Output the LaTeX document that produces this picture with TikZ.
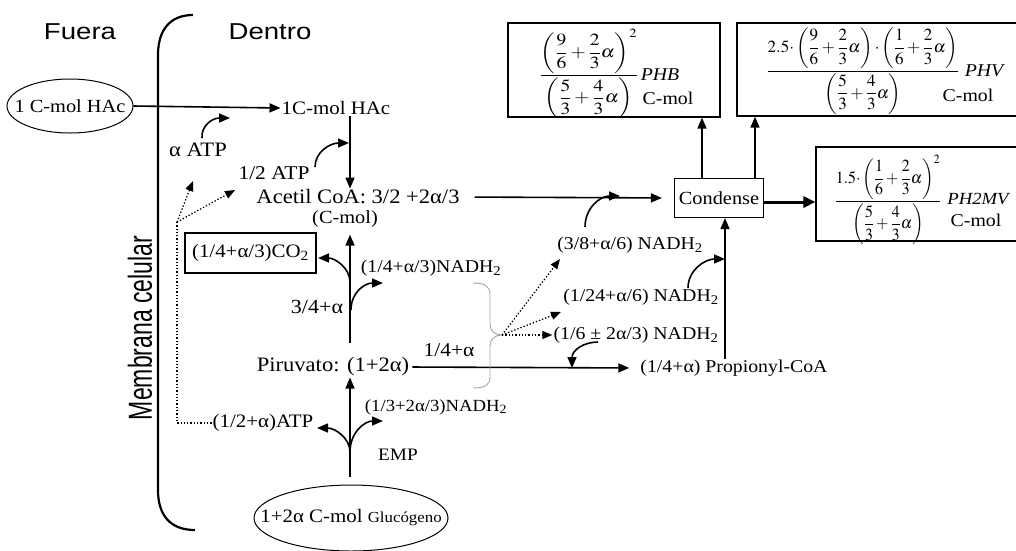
\documentclass[tikz,border=0pt]{standalone}
\usepackage{amsmath}
\usepackage{mathptmx}
\usepackage[no-math]{fontspec}
\setmainfont{Liberation Serif}[FakeStretch=1.1]
\newfontfamily\hfont{Liberation Sans}[FakeStretch=1.2]
\newfontfamily\vfont{Liberation Sans}
\usetikzlibrary{arrows.meta,shapes.geometric,calc}
\newcommand{\fs}[1]{\fontsize{#1}{#1}\selectfont}
\begin{document}
\begin{tikzpicture}[x=1pt,y=-1pt,
  txt/.style={font=\fs{18}, inner sep=1pt},
  hdr/.style={font=\hfont\fs{23}, inner sep=0pt},
  arr/.style={-{Triangle[length=11pt,width=9pt]}, line width=1.6pt},
  thk/.style={-{Triangle[length=12pt,width=11pt]}, line width=3pt},
  dotarr/.style={-{Triangle[length=10pt,width=8pt]}, line width=1.3pt, dotted},
  dotln/.style={line width=1.3pt, dotted},
  bx/.style={draw, line width=1.2pt, inner sep=0pt},
  ell/.style={ellipse, draw, line width=1pt, inner sep=0pt},
  mth/.style={font=\fs{17}, inner sep=0pt},
  lbl/.style={txt, font=\itshape\fs{18}},
]
\useasboundingbox (0,0) rectangle (1016,550);
\clip (0,0) rectangle (1016,550);

% headers and membrane
\node[hdr] (fuera) at (80,32) {Fuera};
\node[hdr] (dentro) at (270,32) {Dentro};
\node[inner sep=0pt, rotate=90, font=\vfont\fs{23}] (memb) at (140,328) {\scalebox{1}[1.45]{Membrana celular}};
\draw[line width=2.2pt] (193,15) .. controls (170,15) and (158,30) .. (158,55) -- (158,490) .. controls (158,515) and (170,530) .. (195,530);

% axis coordinates
\coordinate (ax) at (350,0);
\coordinate (px1) at (702,0);
\coordinate (px2) at (755,0);
\coordinate (px3) at (725,0);

% nodes
\node[ell, minimum width=126pt, minimum height=54pt, font=\fs{18.5}] (hacout) at (70,106) {\makebox[0pt]{1 C-mol HAc}};
\node[txt, font=\fs{19}] (hacin) at (336,108) {1C-mol HAc};
\node[txt, font=\fs{20.5}] (aatp) at (198,150) {α ATP};
\node[txt, font=\fs{19.5}] (hatp) at (274,173) {1/2 ATP};
\node[txt, font=\fs{20.5}] (acetil) at (358,197) {Acetil CoA: 3/2 +2α/3};
\node[txt, font=\fs{18.5}] (cmol) at (345,219) {(C-mol)};
\node[bx, txt, font=\fs{19}, minimum width=131pt, minimum height=40pt] (co2) at (250.5,253) {(1/4+α/3)CO\textsubscript{2}};
\node[txt] (nadh1) at (431,268) {(1/4+α/3)NADH\textsubscript{2}};
\node[txt, font=\fs{20}] (r34) at (317,307) {3/4+α};
\node[txt, font=\fs{20.5}] (piru) at (333,367) {Piruvato: (1+2α)};
\node[txt, font=\fs{19.5}] (r14) at (449,350) {1/4+α};
\node[txt, font=\fs{19}] (atp2) at (263,423) {(1/2+α)ATP};
\node[txt, font=\fs{17}] (nadh0) at (436,407) {(1/3+2α/3)NADH\textsubscript{2}};
\node[txt, font=\fs{17.5}] (emp) at (398,455) {EMP};
\node[ell, minimum width=194pt, minimum height=66pt] (gluc) at (351,518) {\makebox[0pt]{\fs{19}1+2α C-mol \fs{15.3}Glucógeno}};

\node[bx, txt, font=\fs{18.5}, minimum width=89pt, minimum height=39pt] (condense) at (719,198) {Condense};
\node[txt] (nadh38) at (630,245) {(3/8+α/6) NADH\textsubscript{2}};
\node[txt] (nadh124) at (641,297) {(1/24+α/6) NADH\textsubscript{2}};
\node[txt] (nadh16) at (636,335) {(1/6 ± 2α/3) NADH\textsubscript{2}};
\node[txt] (prop) at (734,368) {(1/4+α) Propionyl-CoA};

% product boxes
\node[bx, minimum width=212pt, minimum height=94pt] (phb) at (614,70) {};
\node[mth] (phbf) at (589,74) {\scalebox{1.15}[1]{$\dfrac{\left(\dfrac{9}{6}+\dfrac{2}{3}\alpha\right)^{2}}{\left(\dfrac{5}{3}+\dfrac{4}{3}\alpha\right)}$}};
\node[lbl] (phbl) at (660,75) {PHB};
\node[txt] (phbc) at (668,98) {C-mol};

\node[bx, minimum width=303pt, minimum height=93pt] (phv) at (888.5,69.5) {};
\node[mth] (phvf) at (863,71) {\scalebox{1.0}[1]{$\dfrac{2.5{\cdot}\left(\dfrac{9}{6}+\dfrac{2}{3}\alpha\right){\cdot}\left(\dfrac{1}{6}+\dfrac{2}{3}\alpha\right)}{\left(\dfrac{5}{3}+\dfrac{4}{3}\alpha\right)}$}};
\node[lbl] (phvl) at (984,71) {PHV};
\node[txt] (phvc) at (968,95) {C-mol};

\node[bx, minimum width=224pt, minimum height=94pt] (ph2mv) at (928,194) {};
\node[mth] (ph2mvf) at (888,200) {\scalebox{0.93}[1]{$\dfrac{1.5{\cdot}\left(\dfrac{1}{6}+\dfrac{2}{3}\alpha\right)^{2}}{\left(\dfrac{5}{3}+\dfrac{4}{3}\alpha\right)}$}};
\node[lbl, font=\itshape\fs{17}] (ph2mvl) at (978,199) {PH2MV};
\node[txt] (ph2mvc) at (976,220) {C-mol};

% main connectors
\draw[arr] (hacout.east) -- (hacin.west);
\draw[arr] (hacin.south -| ax) -- (acetil.north -| ax);
\draw[arr, shorten <=14pt, shorten >=12pt] (acetil.east) -- (condense.west);
\draw[arr, shorten <=14pt, shorten >=6pt] (piru.north -| ax) -- (cmol.south -| ax);
\draw[arr, shorten <=8pt] (gluc.north -| ax) -- (piru.south -| ax);
\draw[arr, shorten <=2pt, shorten >=10pt] (piru.east) -- (prop.west);
\draw[arr] (condense.north -| px1) -- (phb.south -| px1);
\draw[arr] (condense.north -| px2) -- (phv.south -| px2);
\draw[arr] (prop.north -| px3) -- (condense.south -| px3);
\draw[thk] ([yshift=-4pt]condense.east) -- ([yshift=-4pt]condense.east -| ph2mv.west);

% side curved arrows
\coordinate (s1) at (202,138); \coordinate (e1) at (230,118);
\draw[arr] (s1) .. controls (201,126) and (212,118) .. (e1);
\coordinate (s2) at (315,167); \coordinate (e2) at (349,143);
\draw[arr] (s2) .. controls (315,152) and (330,143) .. (e2);
\coordinate (s3) at (350,282); \coordinate (e3) at (318,258);
\draw[arr] (s3) .. controls (350,268) and (335,258) .. (e3);
\coordinate (s4) at (351,310); \coordinate (e4) at (383,283);
\draw[arr] (s4) .. controls (351,292) and (365,283) .. (e4);
\coordinate (s5) at (585,227); \coordinate (e5) at (620,196);
\draw[arr] (s5) .. controls (585,208) and (600,196) .. (e5);
\coordinate (s6) at (688,288); \coordinate (e6) at (725,259);
\draw[arr] (s6) .. controls (688,270) and (705,259) .. (e6);
\coordinate (s7) at (598,342); \coordinate (e7) at (572,368);
\draw[arr] (s7) .. controls (584,342) and (572,350) .. (e7);
\coordinate (s8) at (350,452); \coordinate (e8) at (317,428);
\draw[arr] (s8) .. controls (350,438) and (335,428) .. (e8);
\coordinate (e9) at (383,421);
\draw[arr] (s8) .. controls (350,432) and (365,421) .. (e9);

% dotted ATP lines
\coordinate (d0) at (177,222);
\coordinate (da1) at (193,181);
\coordinate (da2) at (235,190);
\draw[dotarr] (d0) -- (da1);
\draw[dotarr] (d0) -- (da2);
\draw[dotln] (atp2.west) -| (d0);

% brace and dotted NADH arrows
\coordinate (bt) at (502,335);
\draw[gray!70, line width=0.9pt] (473,283) .. controls (485,283) and (490,286) .. (490,295) -- (490,324) .. controls (490,331) and (495,335) .. (bt) .. controls (495,335) and (490,339) .. (490,346) -- (490,377) .. controls (490,385) and (485,388) .. (473,388);
\coordinate (n1) at (560,259);
\coordinate (n2) at (561,312);
\draw[dotarr] (bt) -- (n1);
\draw[dotarr] (bt) -- (n2);
\draw[dotarr] (bt) -- (nadh16.west);
\end{tikzpicture}
\end{document}
